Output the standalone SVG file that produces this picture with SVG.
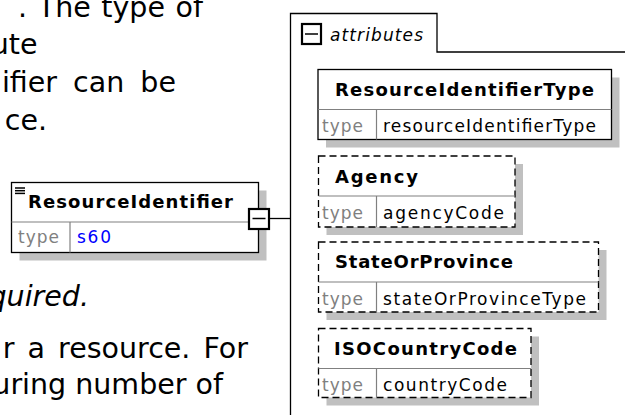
<svg xmlns="http://www.w3.org/2000/svg" width="625" height="415" viewBox="0 0 625 415">
<style>
.bg{font-family:"DejaVu Sans","Verdana",sans-serif;font-size:28.5px;fill:#000;text-anchor:end}
.it{font-style:italic}
.hd{font-family:"DejaVu Sans",sans-serif;font-size:18px;font-weight:bold;fill:#000}
.tx{font-family:"DejaVu Sans",sans-serif;font-size:17px;fill:#000}
.ty{font-family:"DejaVu Sans",sans-serif;font-size:17px;fill:#808080}
.bl{fill:#0000ff}
.sh{fill:#c0c0c0;stroke:none}
.box{fill:#fff;stroke:#000;stroke-width:1.3}
.dash{stroke-dasharray:7 4}
.div{stroke:#808080;stroke-width:1.2;fill:none}
.ln{stroke:#000;stroke-width:1.3;fill:none}
.mb{fill:#fff;stroke:#000;stroke-width:2.2}
.mn{stroke:#000;stroke-width:1.5}
</style>
<g id="background-text">
<text class="bg" x="203" y="16.5" word-spacing="1.5">. The type of</text>
<text class="bg" x="37.5" y="53.5">ute</text>
<text class="bg" x="176" y="92" word-spacing="7">ifier can be</text>
<text class="bg" x="47" y="130">ce.</text>
<text class="bg it" x="89" y="306">quired.</text>
<text class="bg" x="248" y="357.5" word-spacing="4">r a resource. For</text>
<text class="bg" x="223" y="393.5">uring number of</text>
</g>
<g id="connectors">
<line class="ln" x1="270" y1="218.5" x2="290.5" y2="218.5"/>
</g>
<g id="attributes">
<path class="ln" d="M290.5,415 V13.5 H437 V52 H625"/>
<rect class="mb" x="302" y="24" width="19" height="20"/>
<line class="mn" x1="305" y1="34" x2="318" y2="34"/>
<text class="tx it" x="330" y="40.7" textLength="93">attributes</text>
</g>
<g id="ResourceIdentifier">
<rect class="sh" x="19.5" y="190.5" width="247" height="70"/>
<rect class="box" x="11.5" y="182.5" width="247" height="70"/>
<line class="div" x1="11.5" y1="222" x2="258.5" y2="222"/>
<line class="div" x1="70" y1="222" x2="70" y2="252.5"/>
<g class="mn">
<line x1="15" y1="188" x2="25" y2="188"/>
<line x1="15" y1="190.7" x2="25" y2="190.7"/>
<line x1="15" y1="193.4" x2="25" y2="193.4"/>
</g>
<text class="hd" x="28" y="208.3" textLength="205">ResourceIdentifier</text>
<text class="ty" x="18" y="243.3" textLength="41">type</text>
<text class="tx bl" x="77" y="243.3" textLength="34">s60</text>
<rect class="mb" x="249" y="209" width="20" height="20"/>
<line class="mn" x1="252.5" y1="218.5" x2="265.5" y2="218.5"/>
</g>
<g id="ResourceIdentifierType">
<rect class="sh" x="326" y="77.5" width="293.5" height="70"/>
<rect class="box" x="318" y="69.5" width="293.5" height="70"/>
<line class="div" x1="318" y1="109.5" x2="611.5" y2="109.5"/>
<line class="div" x1="376.5" y1="109.5" x2="376.5" y2="139.5"/>
<text class="hd" x="335" y="96" textLength="259">ResourceIdentifierType</text>
<text class="ty" x="322" y="131.5" textLength="41">type</text>
<text class="tx" x="383" y="131.5" textLength="213">resourceIdentifierType</text>
</g>
<g id="Agency">
<rect class="sh" x="326.5" y="164" width="196.5" height="71"/>
<rect class="box dash" x="318.5" y="156" width="196.5" height="71"/>
<line class="div" x1="318.5" y1="196" x2="515" y2="196"/>
<line class="div" x1="376.5" y1="196" x2="376.5" y2="227"/>
<text class="hd" x="335" y="183.3" textLength="83">Agency</text>
<text class="ty" x="322" y="219.3" textLength="41">type</text>
<text class="tx" x="383" y="219.3" textLength="121">agencyCode</text>
</g>
<g id="StateOrProvince">
<rect class="sh" x="326.5" y="250" width="280" height="70"/>
<rect class="box dash" x="318.5" y="242" width="280" height="70"/>
<line class="div" x1="318.5" y1="282" x2="598.5" y2="282"/>
<line class="div" x1="376.5" y1="282" x2="376.5" y2="312"/>
<text class="hd" x="335" y="267.5" textLength="178">StateOrProvince</text>
<text class="ty" x="322" y="305" textLength="41">type</text>
<text class="tx" x="383" y="305" textLength="203">stateOrProvinceType</text>
</g>
<g id="ISOCountryCode">
<rect class="sh" x="326.5" y="336.5" width="212.5" height="69"/>
<rect class="box dash" x="318.5" y="328.5" width="212.5" height="69"/>
<line class="div" x1="318.5" y1="368.5" x2="531" y2="368.5"/>
<line class="div" x1="376.5" y1="368.5" x2="376.5" y2="397.5"/>
<text class="hd" x="334" y="355" textLength="183">ISOCountryCode</text>
<text class="ty" x="322" y="390.7" textLength="41">type</text>
<text class="tx" x="383" y="390.7" textLength="124">countryCode</text>
</g>
</svg>
